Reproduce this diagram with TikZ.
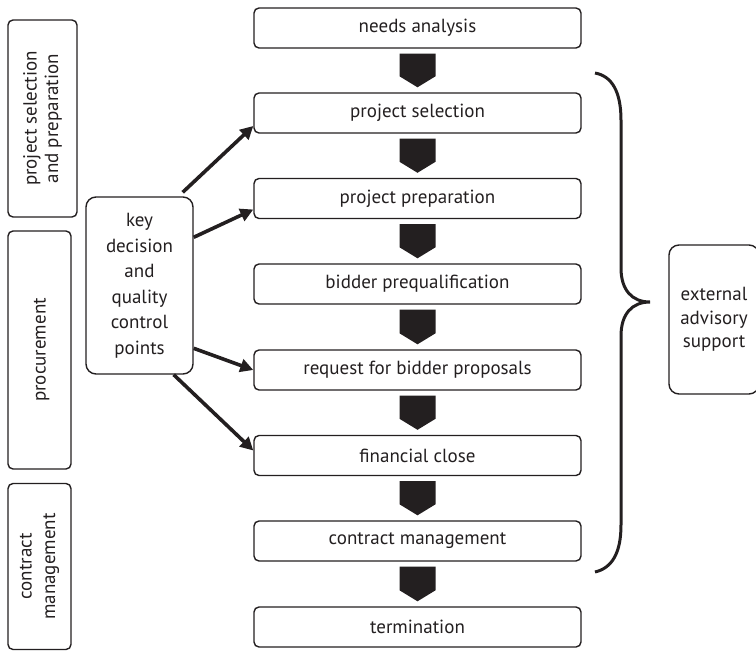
\documentclass[tikz,border=0pt]{standalone}
\usepackage{fontspec}
\setmainfont{PT Sans}
\usetikzlibrary{arrows.meta,calc}
\definecolor{ink}{HTML}{231F20}
\begin{document}
\begin{tikzpicture}[x=1pt,y=-1pt,
  box/.style={draw=ink,line width=1.4pt,rounded corners=5pt,inner sep=0pt,text=ink,font=\fontsize{19}{22}\selectfont},
  mainbox/.style={box,minimum width=327pt,minimum height=40pt},
  vlabel/.style={rotate=90,align=center,text=ink,font=\fontsize{19}{21.5}\selectfont},
  chev/.style={fill=ink,draw=none},
  karrow/.style={draw=ink,line width=3.6pt,-{Triangle[length=13pt,width=13pt]},shorten >=0pt},
  brace/.style={draw=ink,line width=3pt}]
\useasboundingbox (0,0) rectangle (756,651);
% main column
\node[mainbox] (b1) at (417.5,28) {needs analysis};
\node[mainbox] (b2) at (417.5,113) {project selection};
\node[mainbox] (b3) at (417.5,198.5) {project preparation};
\node[mainbox] (b4) at (417.5,284) {bidder prequalification};
\node[mainbox] (b5) at (417.5,370) {request for bidder proposals};
\node[mainbox] (b6) at (417.5,455.5) {financial close};
\node[mainbox] (b7) at (417.5,541) {contract management};
\node[mainbox] (b8) at (417.5,627) {termination};
% chevrons
\foreach \a/\b in {b1/b2,b2/b3,b3/b4,b4/b5,b5/b6,b6/b7,b7/b8}{
  \path[chev] ([xshift=-18pt,yshift=-5pt]\a.south) -- ([xshift=18pt,yshift=-5pt]\a.south)
    -- ([xshift=18pt,yshift=16pt]\b.north) -- ([yshift=5pt]\b.north)
    -- ([xshift=-18pt,yshift=16pt]\b.north) -- cycle;
}
% left phase boxes
\node[box,minimum width=69pt,minimum height=197pt] (p1) at (42.5,118.5) {};
\node[vlabel] at (p1.center) {project selection\\and preparation};
\node[box,minimum width=63pt,minimum height=238pt] (p2) at (39.5,350) {};
\node[vlabel] at ([xshift=2pt]p2.center) {procurement};
\node[box,minimum width=63pt,minimum height=166pt] (p3) at (39.5,566.5) {};
\node[vlabel,font=\fontsize{19}{23.5}\selectfont] at (p3.center) {contract\\management};
% key box
\node[box,minimum width=107pt,minimum height=177pt,align=center,font=\fontsize{19}{25.5}\selectfont,rounded corners=10pt] (key) at (139.5,285.5) {key\\decision\\and\\quality\\control\\points};
% arrows
\draw[karrow] ([xshift=-11pt,yshift=4pt]key.north east) -- ([yshift=-13pt]b2.west);
\draw[karrow] ([yshift=-41pt]key.north east) -- ([yshift=-11pt]b3.west);
\draw[karrow] ([yshift=-152pt]key.north east) -- (b5.west);
\draw[karrow] ([xshift=-20pt]key.south east) -- ([yshift=5pt]b6.west);
% external advisory support
\node[box,minimum width=90pt,minimum height=149pt,align=center,font=\fontsize{19}{23.5}\selectfont,rounded corners=10pt] (ext) at (714,319.5) {external\\advisory\\support};
% brace
\coordinate (bt) at (595,73);
\coordinate (bm) at (650,302);
\coordinate (bb) at (595,572);
\draw[brace] (bt) .. controls (612,76) and (621,92) .. (621,120)
  -- (621,268) .. controls (621,290) and (632,302) .. (bm)
  .. controls (632,302) and (621,314) .. (621,336)
  -- (621,525) .. controls (621,553) and (612,568) .. (bb);
\end{tikzpicture}
\end{document}
